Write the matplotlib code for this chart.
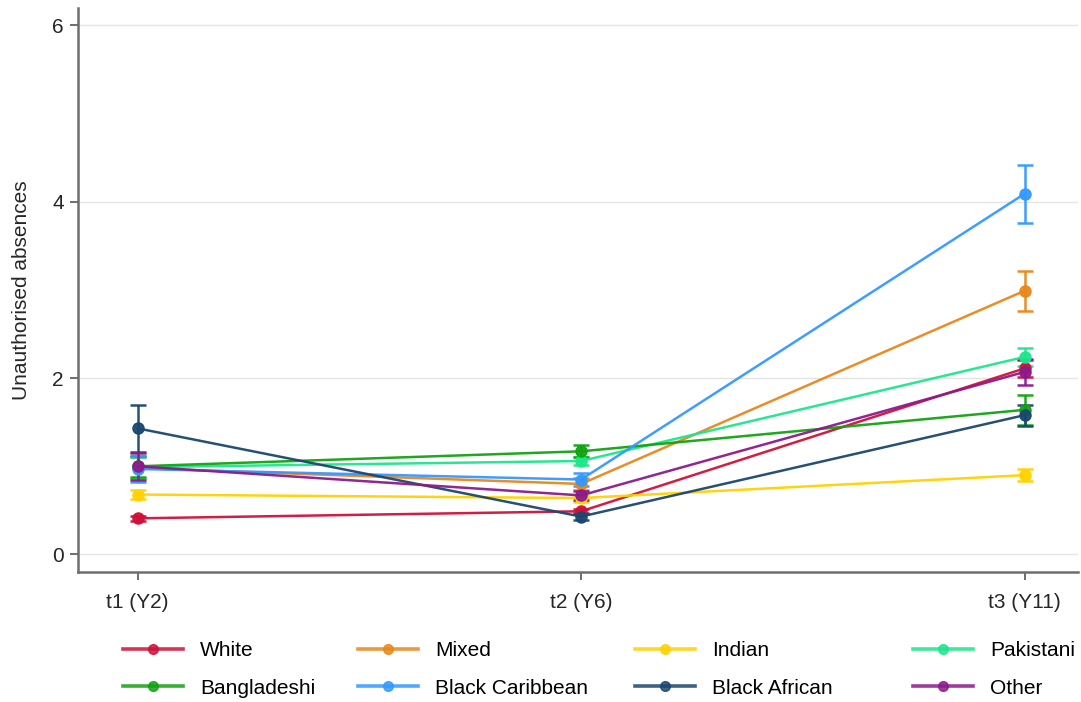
import matplotlib
matplotlib.use("Agg")
import matplotlib.pyplot as plt
from matplotlib.lines import Line2D

plt.rcParams['font.family'] = ['Liberation Sans', 'DejaVu Sans']

timepoints = ["t1 (Y2)", "t2 (Y6)", "t3 (Y11)"]
groups = ["White", "Mixed", "Indian", "Pakistani",
          "Bangladeshi", "Black Caribbean", "Black African", "Other"]

white = [0.41, 0.49, 2.11]
mixed = [0.98, 0.80, 2.99]
indian = [0.68, 0.64, 0.90]
pakistani = [0.99, 1.06, 2.24]
bangladeshi = [1.00, 1.17, 1.64]
black_caribbean = [0.97, 0.85, 4.09]
black_african = [1.43, 0.43, 1.58]
other = [1.00, 0.67, 2.07]

white_ci = [0.03, 0.03, 0.10]
mixed_ci = [0.12, 0.07, 0.23]
indian_ci = [0.05, 0.04, 0.07]
pakistani_ci = [0.12, 0.05, 0.10]
bangladeshi_ci = [0.12, 0.07, 0.17]
black_caribbean_ci = [0.15, 0.07, 0.33]
black_african_ci = [0.27, 0.04, 0.12]
other_ci = [0.15, 0.05, 0.15]

means = [white, mixed, indian, pakistani, bangladeshi,
         black_caribbean, black_african, other]
cis = [white_ci, mixed_ci, indian_ci, pakistani_ci, bangladeshi_ci,
       black_caribbean_ci, black_african_ci, other_ci]
colors = ["#d0103a", "#e8871a", "#ffd200", "#1ce68c",
          "#11a311", "#3399ff", "#1a476f", "#8c1a8c"]

fig = plt.figure(figsize=(10.81, 7.02), dpi=100)
ax = fig.add_axes([0.072, 0.185, 0.925, 0.804])

x = [1, 2, 3]
for name, m, c, col in zip(groups, means, cis, colors):
    ax.errorbar(x, m, yerr=c, color=col, lw=1.8, marker='o', ms=8,
                capsize=5.5, capthick=1.8, elinewidth=1.8, label=name,
                alpha=0.95)

ax.set_xlim(0.865, 3.12)
ax.set_ylim(-0.2, 6.2)
ax.set_xticks(x)
ax.set_xticklabels(timepoints)
ax.set_yticks([0, 2, 4, 6])
ax.yaxis.grid(True, color="#e4e4e4", lw=1)
ax.set_axisbelow(True)
for s in ["top", "right"]:
    ax.spines[s].set_visible(False)
for s in ["left", "bottom"]:
    ax.spines[s].set_color("#6e6e6e")
    ax.spines[s].set_linewidth(1.8)
ax.tick_params(axis='both', colors="#6e6e6e", labelcolor="#262626",
               labelsize=15, length=6, width=1.4)
ax.tick_params(axis='x', pad=9)
ax.tick_params(axis='y', pad=4)
ax.set_ylabel("Unauthorised absences", fontsize=15, color="#262626", labelpad=15)

# legend: four columns of two rows, entries ordered row by row
col_left = [123, 358, 635, 913]
for j in range(4):
    hs, ls = [], []
    for i in (j, j + 4):
        hs.append(Line2D([0], [0], color=colors[i], lw=2.6, marker='o', ms=7,
                         alpha=0.85))
        ls.append(groups[i])
    fig.legend(hs, ls, loc="upper left",
               bbox_to_anchor=(col_left[j] / 1081, 1 - 641 / 702),
               frameon=False, fontsize=15, handlelength=2.9,
               handletextpad=0.8, labelspacing=0.9, borderpad=0,
               borderaxespad=0, numpoints=1)

fig.savefig("out.png", dpi=100)
